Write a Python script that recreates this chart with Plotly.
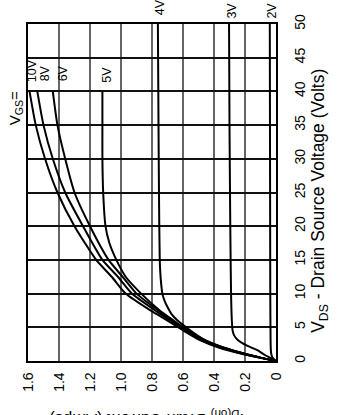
import plotly.graph_objects as go

# ---- data (original chart: VDS on horizontal, ID on vertical; drawn rotated) ----
vds_10v = [0, 0.5, 1, 2, 3, 4, 5, 6, 7.5, 10, 12.5, 15, 20, 25, 30, 35, 40]
id_10v = [0, 0.11, 0.21, 0.37, 0.48, 0.56, 0.63, 0.70, 0.81, 0.97, 1.06, 1.16, 1.30, 1.41, 1.49, 1.55, 1.59]
vds_8v = [0, 0.5, 1, 2, 3, 4, 5, 6, 7.5, 10, 12.5, 15, 20, 25, 30, 35, 40]
id_8v = [0, 0.105, 0.20, 0.36, 0.47, 0.55, 0.62, 0.68, 0.78, 0.93, 1.02, 1.12, 1.245, 1.36, 1.44, 1.50, 1.54]
vds_6v = [0, 0.5, 1, 2, 3, 4, 5, 6, 7.5, 10, 12.5, 15, 20, 25, 30, 35, 40]
id_6v = [0, 0.10, 0.19, 0.35, 0.46, 0.54, 0.61, 0.67, 0.76, 0.90, 0.99, 1.08, 1.20, 1.30, 1.36, 1.41, 1.44]
vds_5v = [0, 0.5, 1, 2, 3, 4, 5, 6, 7.5, 10, 12.5, 15, 17.5, 20, 25, 30, 35, 40]
id_5v = [0, 0.10, 0.19, 0.34, 0.45, 0.53, 0.60, 0.66, 0.75, 0.87, 0.97, 1.03, 1.075, 1.10, 1.115, 1.12, 1.12, 1.12]
vds_4v = [0, 0.5, 1, 2, 3, 4, 5, 6, 7, 8, 9, 10, 12, 15, 25, 35, 50]
id_4v = [0, 0.10, 0.19, 0.34, 0.45, 0.52, 0.58, 0.635, 0.675, 0.70, 0.72, 0.733, 0.743, 0.75, 0.755, 0.758, 0.762]
vds_3v = [0, 0.5, 1, 1.6, 2.2, 2.7, 3.2, 3.8, 4.5, 6, 10, 20, 35, 50]
id_3v = [0, 0.04, 0.08, 0.12, 0.18, 0.22, 0.25, 0.27, 0.28, 0.285, 0.29, 0.295, 0.30, 0.303]
vds_2v = [0, 0.3, 0.6, 1, 1.5, 3, 10, 50]
id_2v = [0, 0.015, 0.025, 0.03, 0.033, 0.035, 0.037, 0.04]

curves = [
    ("10V", vds_10v, id_10v), ("8V", vds_8v, id_8v), ("6V", vds_6v, id_6v),
    ("5V", vds_5v, id_5v), ("4V", vds_4v, id_4v), ("3V", vds_3v, id_3v),
    ("2V", vds_2v, id_2v),
]

ID_RANGE = [1.6, 0]
VDS_RANGE = [0, 50]
id_ticks = [1.6, 1.4, 1.2, 1.0, 0.8, 0.6, 0.4, 0.2, 0]
id_tick_text = ["1.6", "1.4", "1.2", "1.0", "0.8", "0.6", "0.4", "0.2", "0"]
vds_ticks = [0, 5, 10, 15, 20, 25, 30, 35, 40, 45, 50]

# gate-voltage labels: (ID, VDS) of the bottom end of the rotated text
label_names = ["10V", "8V", "6V", "5V", "4V", "3V", "2V"]
label_id = [1.574, 1.49, 1.374, 1.09, 0.748, 0.284, 0.026]
label_vds = [41.0, 41.2, 41.2, 41.0, 51.0, 50.5, 50.5]
# "VGS=" prefix: position (ID, VDS)
vgs_id, vgs_vds = 1.684, 37.5

FONT = "Arial, Liberation Sans, sans-serif"


def id_to_paper(v):
    return (v - ID_RANGE[0]) / (ID_RANGE[1] - ID_RANGE[0])


def vds_to_paper(v):
    return (v - VDS_RANGE[0]) / (VDS_RANGE[1] - VDS_RANGE[0])


fig = go.Figure()
for name, v, i in curves:
    fig.add_trace(go.Scatter(
        x=i, y=v, mode="lines", name=name,
        line=dict(color="black", width=2, shape="spline", smoothing=0.6),
        showlegend=False, hoverinfo="skip",
    ))

for t, xi, yv in zip(label_names, label_id, label_vds):
    fig.add_annotation(
        x=id_to_paper(xi), y=vds_to_paper(yv), xref="paper", yref="paper",
        text=t, showarrow=False,
        textangle=-90, xanchor="center", yanchor="bottom",
        font=dict(family=FONT, size=12.5, color="black"),
    )

fig.add_annotation(
    x=id_to_paper(vgs_id), y=vds_to_paper(vgs_vds), xref="paper", yref="paper",
    text="V<sub>GS</sub>=", showarrow=False,
    textangle=-90, xanchor="center", yanchor="middle",
    font=dict(family=FONT, size=15, color="black"),
)

# y-axis title (right side, reading bottom to top)
fig.add_annotation(
    x=1.177, y=0.475, xref="paper", yref="paper",
    text="V<sub>DS</sub> - Drain Source Voltage (Volts)", showarrow=False,
    textangle=-90, xanchor="center", yanchor="middle",
    font=dict(family=FONT, size=17.5, color="black"),
)
# x-axis title (upside down at bottom, partly cut off)
fig.add_annotation(
    x=0.48, y=-0.136, xref="paper", yref="paper",
    text="I<sub>D(on)</sub> Drain Current (Amps)", showarrow=False,
    textangle=180, xanchor="center", yanchor="top",
    font=dict(family=FONT, size=16.5, color="black"),
)

fig.update_layout(
    width=340, height=415,
    margin=dict(l=28, r=64, t=24, b=54),
    paper_bgcolor="white", plot_bgcolor="white",
    font=dict(family=FONT, size=14, color="black"),
    xaxis=dict(
        range=ID_RANGE, tickvals=id_ticks, ticktext=id_tick_text,
        tickangle=-90, showgrid=True, gridcolor="#666666", gridwidth=1.5,
        showline=True, linecolor="black", linewidth=1.5, mirror=True,
        zeroline=False, ticks="", ticklabelstandoff=4,
        tickfont=dict(family=FONT, size=14),
    ),
    yaxis=dict(
        range=VDS_RANGE, tickvals=vds_ticks, side="right",
        tickangle=-90, showgrid=True, gridcolor="#111111", gridwidth=1.5,
        showline=True, linecolor="black", linewidth=1.5, mirror=True,
        zeroline=False, ticks="", ticklabelstandoff=10,
        tickfont=dict(family=FONT, size=14),
    ),
)

fig.write_html("out.html")
